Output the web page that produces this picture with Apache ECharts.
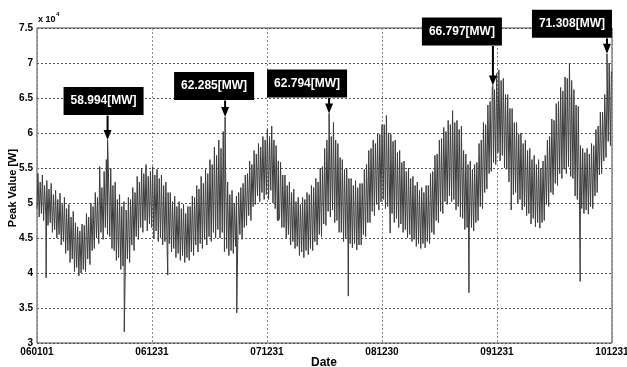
<!DOCTYPE html>
<html>
<head>
<meta charset="utf-8">
<script src="https://cdn.jsdelivr.net/npm/echarts/dist/echarts.min.js"></script>
<style>
html,body{margin:0;padding:0;background:#fff;}
#chart{width:627px;height:367px;}
</style>
</head>
<body>
<div id="chart"></div>
<script>
// ---- DATA (values in units of 10^4 W, day index from 2006-01-01) ----
const xTickLabels = ['060101', '061231', '071231', '081230', '091231', '101231'];

// weekly weekday-peak envelope (one value per week, 2006..2010)
const weeklyHigh = [
  // 2006
  5.42,5.30,5.40,5.25, 5.32,5.20,5.28,5.12, 5.18,5.05,5.14,4.98,5.08, 4.92,4.98,4.80,4.88, 4.72,4.66,4.60,4.70,
  4.68,4.85,4.80,5.00,4.95, 5.15,5.08,5.52,5.22, 5.45,5.62,5.40,5.50, 5.25,5.30,5.05,5.12,4.95, 5.02,4.90,5.08,5.05,
  5.22,5.15,5.38,5.30, 5.50,5.42,5.55,5.38,5.45,
  // 2007
  5.52,5.40,5.48,5.35, 5.40,5.25,5.30,5.15, 5.15,5.02,5.10,4.95,5.02, 4.92,4.98,4.85,4.95, 4.95,5.10,5.08,5.25,
  5.20,5.38,5.28,5.48,5.42, 5.62,5.55,5.80,5.68, 5.90,5.78,6.02,5.65, 5.30,5.12,5.18,5.00,5.10, 5.15,5.22,5.28,5.40,
  5.42,5.60,5.55,5.75, 5.70,5.85,5.80,5.95,5.90,
  // 2008
  6.05,5.95,6.10,5.90, 5.82,5.60,5.58,5.40, 5.40,5.25,5.30,5.15,5.20, 5.02,5.08,4.98,5.08, 5.05,5.15,5.12,5.25,
  5.22,5.35,5.30,5.50,5.52, 5.78,5.90,6.08,5.95, 6.15,5.90,5.85,5.65, 5.62,5.48,5.50,5.35,5.35, 5.25,5.32,5.22,5.28,
  5.28,5.48,5.55,5.75, 5.78,5.90,5.85,6.00,5.98,6.12,
  // 2009
  6.12,6.25,6.00,5.98, 5.88,5.90,5.72,5.75, 5.58,5.60,5.45,5.50,5.35, 5.38,5.25,5.30,5.18, 5.22,5.15,5.25,5.25,
  5.42,5.45,5.68,5.70,5.90, 5.92,6.08,6.02,6.18, 6.12,6.32,6.15,6.18, 6.05,6.10,5.75,5.70,5.55, 5.60,5.48,5.55,5.58,
  5.85,5.90,6.15,6.12, 6.40,6.45,6.65,6.62,6.85,
  // 2010
  6.90,6.75,6.78,6.55, 6.55,6.35,6.35,6.15, 6.15,5.98,6.00,5.85,5.90, 5.75,5.78,5.62,5.68, 5.55,5.62,5.50,5.60,
  5.68,5.90,5.95,6.20,6.18, 6.42,6.45,6.65,6.60, 6.80,6.78,7.00,6.75, 6.62,6.40,6.38,5.82,5.78, 5.72,5.78,5.70,5.85,
  5.82,6.05,6.10,6.30, 6.30,6.55,6.65,7.00,6.88
];

// weekly weekend-low envelope
const weeklyLow = [
  // 2006
  4.92,4.80,4.85,4.75, 4.80,4.68,4.72,4.58, 4.62,4.50,4.55,4.40,4.45, 4.28,4.32,4.15,4.20, 4.02,4.08,3.96,4.00,
  4.05,4.02,4.20,4.12,4.32, 4.35,4.50,4.42,4.58, 4.48,4.65,4.55,4.52, 4.35,4.32,4.18,4.22,4.05, 4.10,4.02,4.20,4.15,
  4.40,4.32,4.52,4.48, 4.65,4.58,4.75,4.60,4.70,
  // 2007
  4.65,4.50,4.60,4.45, 4.50,4.40,4.45,4.35, 4.42,4.30,4.35,4.22,4.28, 4.18,4.25,4.15,4.22, 4.18,4.30,4.25,4.40,
  4.30,4.42,4.35,4.48,4.40, 4.52,4.45,4.58,4.50, 4.62,4.50,4.58,4.30, 4.35,4.25,4.32,4.28,4.38, 4.40,4.55,4.48,4.65,
  4.68,4.82,4.75,4.95, 4.98,5.10,5.02,5.15,5.05,
  // 2008
  5.12,5.05,5.18,5.00, 4.92,4.75,4.80,4.65, 4.65,4.50,4.55,4.40,4.45, 4.35,4.38,4.25,4.30, 4.22,4.32,4.26,4.35,
  4.32,4.45,4.40,4.55,4.52, 4.70,4.68,4.88,4.80, 4.90,4.72,4.75,4.58, 4.58,4.45,4.50,4.38,4.42, 4.36,4.42,4.33,4.40,
  4.40,4.55,4.52,4.72, 4.72,4.88,4.82,4.98,4.90,5.02,
  // 2009
  5.05,4.92,4.95,4.82, 4.85,4.72,4.78,4.65, 4.70,4.58,4.62,4.50,4.55, 4.45,4.48,4.38,4.42, 4.35,4.42,4.36,4.45,
  4.42,4.58,4.55,4.75,4.72, 4.88,4.85,5.02,4.98, 5.10,5.02,5.05,4.90, 4.95,4.80,4.78,4.62,4.65, 4.58,4.65,4.60,4.72,
  4.75,4.95,4.92,5.15, 5.20,5.42,5.45,5.58,5.55,
  // 2010
  5.72,5.60,5.68,5.50, 5.48,5.30,5.32,5.12, 5.15,5.00,5.05,4.90,4.95, 4.82,4.85,4.70,4.78, 4.66,4.72,4.64,4.72,
  4.75,4.98,4.95,5.15,5.12, 5.28,5.25,5.42,5.35, 5.48,5.42,5.52,5.38, 5.35,5.10,5.05,4.88,4.92, 4.85,4.90,4.84,4.95,
  4.92,5.10,5.15,5.40, 5.42,5.60,5.65,5.88,5.82
];

// holiday dips (Lunar New Year / Chuseok)
const holidayDays   = [29, 277, 415, 634, 767, 988, 1121, 1371, 1505, 1724];
const holidayValues = [3.93, 3.16, 3.97, 3.43, 4.75, 3.67, 4.57, 3.72, 4.90, 3.88];

// annual peaks (annotated)
const peakDays   = [224, 597, 927, 1447, 1809];
const peakValues = [5.8994, 6.2285, 6.2794, 6.6797, 7.1308];
const peakLabels = ['58.994[MW]', '62.285[MW]', '62.794[MW]', '66.797[MW]', '71.308[MW]'];

// ---- build series ----
const points = [];
weeklyLow.forEach((v, w) => points.push([7 * w, v]));
weeklyHigh.forEach((v, w) => points.push([7 * w + 3, v]));
holidayDays.forEach((d, i) => points.push([d, holidayValues[i]]));
peakDays.forEach((d, i) => points.push([d, peakValues[i]]));
points.sort((a, b) => a[0] - b[0]);

// callout box placement relative to the peak (pixels)
const calloutLayout = [
  {dx: -4, dy: -39},
  {dx: -11, dy: -31},
  {dx: -22, dy: -30},
  {dx: -31, dy: -54},
  {dx: -35, dy: -30}
];
const BOX_H = 29;
const FONT = '"Liberation Sans", Arial, Helvetica, sans-serif';

const chart = echarts.init(document.getElementById('chart'), null, {renderer: 'canvas'});
chart.setOption({
  animation: false,
  backgroundColor: '#fff',
  grid: {left: 37, right: 15, top: 28, bottom: 24, containLabel: false, outerBoundsMode: 'none',
    show: true, borderColor: '#444', borderWidth: 1, backgroundColor: 'transparent'},
  xAxis: {
    type: 'value', min: 0, max: 1825, interval: 365,
    axisLine: {show: false}, axisTick: {show: false},
    splitLine: {show: true, lineStyle: {color: '#888', type: [2, 2], width: 1}},
    axisLabel: {
      color: '#000', fontFamily: FONT, fontWeight: 'bold', fontSize: 10, margin: 4,
      showMinLabel: true, showMaxLabel: true, hideOverlap: false,
      formatter: v => xTickLabels[Math.round(v / 365)] || ''
    }
  },
  yAxis: {
    type: 'value', min: 3, max: 7.5, interval: 0.5,
    axisLine: {show: false}, axisTick: {show: false},
    splitLine: {show: true, lineStyle: {color: '#555', type: [2, 2], width: 1}},
    axisLabel: {color: '#000', fontFamily: FONT, fontWeight: 'bold', fontSize: 10, margin: 4}
  },
  graphic: [
    {type: 'text', left: 38, top: 15, style: {text: 'x 10', fill: '#000', font: 'bold 9px ' + FONT}},
    {type: 'text', left: 56, top: 11, style: {text: '4', fill: '#000', font: 'bold 6px ' + FONT}},
    {type: 'text', x: 13, y: 188, rotation: Math.PI / 2,
      style: {text: 'Peak Value [W]', fill: '#000', font: 'bold 11px ' + FONT, align: 'center', verticalAlign: 'middle'}},
    {type: 'text', x: 324, y: 357,
      style: {text: 'Date', fill: '#000', font: 'bold 12px ' + FONT, align: 'center', verticalAlign: 'top'}}
  ],
  series: [
    {
      type: 'line', data: points, showSymbol: false, symbol: 'none', sampling: null,
      lineStyle: {color: '#3c3c3c', width: 1}, z: 3, clip: true
    },
    {
      type: 'custom', z: 10, clip: false,
      data: peakDays.map((d, i) => [d, peakValues[i]]),
      renderItem: function (params, api) {
        const i = params.dataIndex;
        const p = api.coord([api.value(0), api.value(1)]);
        const L = calloutLayout[i];
        const cx = p[0] + L.dx, cy = p[1] + L.dy;
        const boxBottom = cy + BOX_H / 2;
        return {
          type: 'group',
          children: [
            {type: 'line', shape: {x1: p[0], y1: boxBottom, x2: p[0], y2: p[1] - 8},
              style: {stroke: '#000', lineWidth: 2}},
            {type: 'polygon', shape: {points: [[p[0] - 4, p[1] - 10], [p[0] + 4, p[1] - 10], [p[0], p[1]]]},
              style: {fill: '#000'}},
            {type: 'text', x: cx, y: cy,
              style: {text: peakLabels[i], fill: '#fff', font: 'bold 12px ' + FONT,
                align: 'center', verticalAlign: 'middle', backgroundColor: '#000', padding: [8, 7]}}
          ]
        };
      }
    }
  ]
});
</script>
</body>
</html>
